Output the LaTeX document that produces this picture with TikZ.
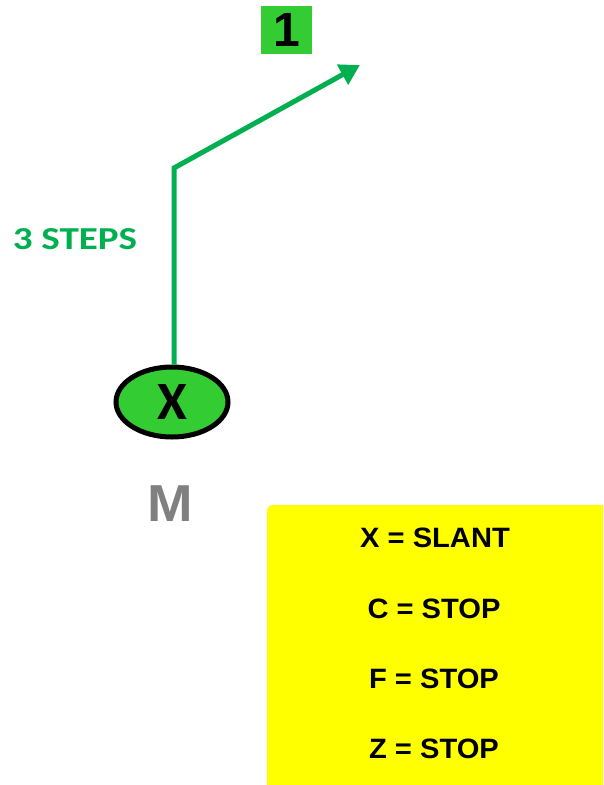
\documentclass[tikz,border=0pt]{standalone}
\usepackage{fontspec}
\usepackage{graphicx}
\setmainfont{Liberation Sans}
\newfontfamily\calib{Carlito}
\usetikzlibrary{shapes.geometric,arrows.meta}
\definecolor{boxgreen}{HTML}{33CC33}
\definecolor{arrgreen}{HTML}{00B050}
\definecolor{mgrey}{HTML}{808080}
\definecolor{legyellow}{HTML}{FFFF00}
\tikzset{
  txt/.style={inner sep=0pt, font=\bfseries\fontsize{28}{30}\selectfont},
  path/.style={draw=arrgreen, line width=5pt, -{Triangle[length=20pt,width=22pt]}},
}
\begin{document}
\begin{tikzpicture}[x=1pt,y=-1pt]
\useasboundingbox (0,0) rectangle (603,785);
\fill[white] (0,0) rectangle (603,785);
% number box
\node[fill=boxgreen, minimum width=51pt, minimum height=48pt, inner sep=0pt,
      font=\bfseries\fontsize{48}{50}\selectfont] (num) at (286.5,30) {1};
% player ellipse
\node[ellipse, draw=black, line width=5pt, fill=boxgreen, minimum width=112pt,
      minimum height=70pt, inner sep=0pt, font=\bfseries\calib\fontsize{54}{56}\selectfont] (X) at (172,402) {X};
\node[inner sep=0pt, text=mgrey, font=\bfseries\fontsize{52}{54}\selectfont] (M) at (170,504) {\scalebox{1.05}[1]{M}};
% route
\coordinate (bend) at (174,168);
\coordinate (tip) at (360,65);
\draw[path] ([xshift=2pt]X.north) -- (bend) -- (tip);
\node[inner sep=0pt, text=arrgreen, font=\bfseries\calib\fontsize{32}{34}\selectfont] (steps) at (75,239) {\scalebox{1.22}[1]{3 STEPS}};
% legend
\path[fill=legyellow] (603,785) -- (267,785) [rounded corners=5pt] -- (267,505) [sharp corners] -- (603,505) -- cycle;
\node[txt] (l1) at (435,538) {\scalebox{1.04}[1]{X = SLANT}};
\node[txt] (l2) at (434,609) {\scalebox{1.04}[1]{C = STOP}};
\node[txt] (l3) at (434,679) {\scalebox{1.04}[1]{F = STOP}};
\node[txt] (l4) at (434,749) {\scalebox{1.04}[1]{Z = STOP}};
\end{tikzpicture}
\end{document}
